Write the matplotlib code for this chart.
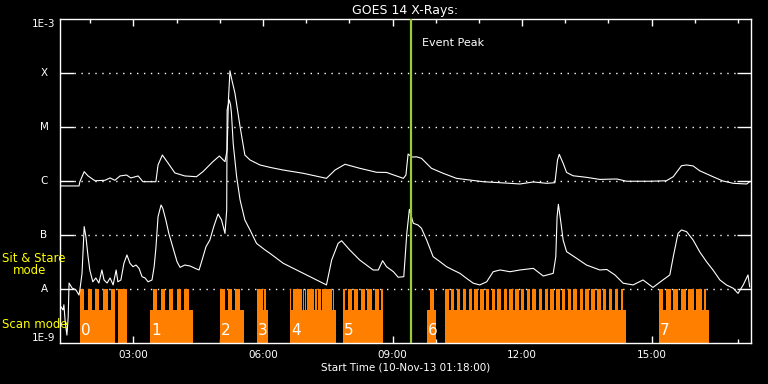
import matplotlib
matplotlib.use("Agg")
import matplotlib.pyplot as plt
import matplotlib.transforms as mtransforms
from matplotlib.ticker import FixedLocator, NullLocator

# time in hours of 10-Nov-13, flux in W/m^2
t_long = [1.30, 1.74, 1.76, 1.86, 1.95, 2.11, 2.34, 2.46, 2.57, 2.69, 2.84, 2.94, 3.11, 3.22, 3.52,
          3.57, 3.67, 3.80, 3.96, 4.19, 4.46, 4.61, 4.84, 4.99, 5.12, 5.17, 5.20, 5.235, 5.28, 5.35,
          5.47, 5.58, 5.70, 5.93, 6.16, 6.46, 6.93, 7.47, 7.67, 7.90, 8.24, 8.63, 8.86, 9.25, 9.31,
          9.36, 9.45, 9.56, 9.67, 9.90, 10.17, 10.48, 11.10, 11.72, 11.95, 12.26, 12.57, 12.76, 12.82,
          12.86, 12.95, 13.03, 13.18, 13.49, 13.80, 14.19, 14.42, 14.96, 15.34, 15.50, 15.69, 15.81,
          15.96, 16.11, 16.42, 16.65, 16.89, 17.20, 17.27]
flux_long = [8.1e-7, 8.1e-7, 9.7e-7, 1.49e-6, 1.24e-6, 1.01e-6, 1.03e-6, 1.14e-6, 1.03e-6, 1.24e-6,
             1.29e-6, 1.14e-6, 1.24e-6, 9.7e-7, 9.7e-7, 1.98e-6, 3.03e-6, 2.16e-6, 1.41e-6, 1.24e-6,
             1.20e-6, 1.49e-6, 2.28e-6, 2.90e-6, 2.28e-6, 3.75e-6, 3.16e-5, 1.10e-4, 7.4e-5, 4.27e-5,
             1.01e-5, 3.03e-6, 2.45e-6, 1.98e-6, 1.79e-6, 1.60e-6, 1.39e-6, 1.12e-6, 1.60e-6, 2.04e-6,
             1.72e-6, 1.45e-6, 1.44e-6, 1.12e-6, 1.29e-6, 3.16e-6, 2.78e-6, 2.80e-6, 2.63e-6, 1.72e-6,
             1.39e-6, 1.12e-6, 9.7e-7, 9.06e-7, 8.8e-7, 9.6e-7, 9.06e-7, 9.3e-7, 2.45e-6, 3.12e-6,
             2.13e-6, 1.44e-6, 1.25e-6, 1.17e-6, 1.07e-6, 1.09e-6, 9.9e-7, 9.9e-7, 1.01e-6, 1.20e-6,
             1.92e-6, 1.98e-6, 1.90e-6, 1.55e-6, 1.20e-6, 1.0e-6, 9.06e-7, 8.8e-7, 9.7e-7]

t_short = [1.32, 1.37, 1.39, 1.42, 1.46, 1.49, 1.51, 1.58, 1.67, 1.74, 1.76, 1.81, 1.86, 1.90, 1.95,
           1.99, 2.06, 2.13, 2.20, 2.27, 2.32, 2.39, 2.46, 2.53, 2.60, 2.64, 2.71, 2.78, 2.85, 2.92,
           2.99, 3.06, 3.13, 3.20, 3.27, 3.34, 3.43, 3.48, 3.52, 3.57, 3.64, 3.68, 3.75, 3.82, 3.92,
           4.01, 4.08, 4.19, 4.31, 4.43, 4.52, 4.59, 4.68, 4.77, 4.86, 4.96, 5.04, 5.12, 5.16, 5.17,
           5.22, 5.25, 5.27, 5.31, 5.39, 5.47, 5.58, 5.70, 5.85, 6.05, 6.16, 6.47, 6.86, 7.24, 7.47,
           7.59, 7.74, 7.82, 8.01, 8.24, 8.55, 8.67, 8.77, 8.86, 9.02, 9.13, 9.26, 9.33, 9.39, 9.48,
           9.59, 9.67, 9.79, 9.94, 10.10, 10.25, 10.40, 10.56, 10.71, 10.87, 11.02, 11.18, 11.33, 11.49,
           11.72, 11.95, 12.26, 12.49, 12.72, 12.78, 12.81, 12.84, 12.89, 12.95, 13.03, 13.26, 13.49,
           13.80, 13.96, 14.15, 14.34, 14.57, 14.80, 15.03, 15.26, 15.42, 15.50, 15.61, 15.69, 15.81,
           15.96, 16.11, 16.27, 16.42, 16.58, 16.73, 16.89, 17.00, 17.12, 17.23, 17.27]
flux_short = [4.7e-9, 4.1e-9, 5.1e-9, 2.5e-9, 1.4e-9, 3.1e-9, 1.29e-8, 1.04e-8, 9.6e-9, 7.7e-9,
              9.6e-9, 1.95e-8, 1.43e-7, 9.3e-8, 3.96e-8, 2.25e-8, 1.36e-8, 1.60e-8, 1.29e-8, 2.25e-8,
              1.47e-8, 1.29e-8, 1.60e-8, 1.19e-8, 2.25e-8, 1.36e-8, 1.47e-8, 2.99e-8, 4.27e-8, 2.99e-8,
              2.59e-8, 2.78e-8, 2.41e-8, 1.69e-8, 1.60e-8, 1.36e-8, 1.47e-8, 2.59e-8, 5.67e-8, 2.18e-7,
              3.6e-7, 3.12e-7, 1.90e-7, 1.07e-7, 5.67e-8, 3.2e-8, 2.52e-8, 2.78e-8, 2.67e-8, 2.41e-8,
              2.25e-8, 3.44e-8, 6.07e-8, 8.07e-8, 1.43e-7, 2.45e-7, 1.90e-7, 1.07e-7, 2.9e-7, 2.07e-5,
              3.16e-5, 2.55e-5, 1.80e-5, 4.99e-6, 1.20e-6, 4.45e-7, 1.90e-7, 1.24e-7, 7.0e-8, 5.27e-8,
              4.58e-8, 2.99e-8, 2.09e-8, 1.47e-8, 1.19e-8, 3.44e-8, 7.0e-8, 7.83e-8, 5.27e-8, 3.44e-8,
              2.25e-8, 2.25e-8, 3.34e-8, 2.59e-8, 2.09e-8, 1.65e-8, 1.69e-8, 1.07e-7, 2.99e-7, 1.65e-7,
              1.53e-7, 1.33e-7, 8.07e-8, 3.96e-8, 3.2e-8, 2.59e-8, 2.25e-8, 1.95e-8, 1.58e-8, 1.28e-8,
              1.19e-8, 1.36e-8, 2.09e-8, 2.25e-8, 2.09e-8, 2.25e-8, 2.41e-8, 1.74e-8, 1.95e-8, 3.96e-8,
              2.18e-7, 3.71e-7, 1.90e-7, 8.07e-8, 4.91e-8, 3.71e-8, 2.78e-8, 2.25e-8, 2.30e-8, 1.82e-8,
              1.28e-8, 1.19e-8, 1.47e-8, 1.07e-8, 1.47e-8, 1.82e-8, 3.96e-8, 1.07e-7, 1.24e-7, 1.15e-7,
              8.07e-8, 4.91e-8, 3.2e-8, 2.25e-8, 1.47e-8, 1.19e-8, 1.03e-8, 8.3e-9, 1.19e-8, 1.82e-8,
              1.10e-8]

# observing modes (hours): scan blocks and sit & stare bars
scan_start = [1.76, 2.65, 3.38, 5.00, 5.85, 6.62, 7.86, 9.79, 10.21, 15.17]
scan_end = [2.57, 2.84, 4.39, 5.56, 6.11, 7.68, 8.79, 10.00, 14.40, 16.33]
stare_start = [1.76, 1.95, 2.10, 2.29, 2.47, 2.65,
               3.46, 3.65, 3.83, 4.00, 4.17,
               5.00, 5.18, 5.35, 5.85, 6.03,
               6.62, 6.69, 6.92, 6.97, 7.02, 7.21, 7.27, 7.37, 7.61,
               7.86, 7.97, 8.11, 8.26, 8.42, 8.59, 8.74, 9.87,
               10.21, 10.35, 10.49, 10.62, 10.76, 10.89, 11.03, 11.16, 11.30, 11.43, 11.57,
               11.70, 11.84, 11.97, 12.11, 12.24, 12.38, 12.52, 12.65, 12.79, 12.92, 13.06,
               13.19, 13.33, 13.46, 13.60, 13.74, 13.87, 14.01, 14.14, 14.28,
               15.17, 15.33, 15.50, 15.67, 15.85, 16.03, 16.21]
stare_end = [1.86, 2.04, 2.21, 2.40, 2.57, 2.84,
             3.55, 3.74, 3.92, 4.11, 4.28,
             5.12, 5.29, 5.47, 6.00, 6.07,
             6.66, 6.90, 6.95, 6.99, 7.19, 7.24, 7.34, 7.59, 7.65,
             7.91, 8.05, 8.20, 8.37, 8.53, 8.68, 8.79, 9.96,
             10.30, 10.43, 10.57, 10.70, 10.84, 10.97, 11.11, 11.24, 11.38, 11.51, 11.65,
             11.78, 11.92, 12.05, 12.19, 12.33, 12.46, 12.60, 12.73, 12.87, 13.00, 13.14,
             13.28, 13.41, 13.55, 13.68, 13.82, 13.95, 14.09, 14.22, 14.34,
             15.27, 15.45, 15.62, 15.80, 15.98, 16.16, 16.25]
scan_level = 4.1e-9
stare_level = 1.0e-8
block_ids = ["0", "1", "2", "3", "4", "5", "6", "7"]
block_t = [1.76, 3.38, 5.00, 5.85, 6.62, 7.86, 9.79, 15.17]

event_peak = 9.425
t_range = (1.3, 17.3)
hour_ticks = [3, 6, 9, 12, 15]
hour_labels = ["03:00", "06:00", "09:00", "12:00", "15:00"]
levels = [1e-9, 1e-8, 1e-7, 1e-6, 1e-5, 1e-4, 1e-3]
level_names = ["1E-9", "A", "B", "C", "M", "X", "1E-3"]

orange = "#ff8000"
fig = plt.figure(figsize=(7.68, 3.84), dpi=100, facecolor="black")
ax = fig.add_axes([60 / 768, 41 / 384, 691 / 768, 324 / 384], facecolor="black")
ax.set_yscale("log")
ax.set_xlim(*t_range)
ax.set_ylim(levels[0], levels[-1])

# dotted flare-class lines
for lv in levels[1:-1]:
    ax.axhline(lv, xmin=0.02, xmax=0.98, color="white", lw=1.0, dashes=(1, 4), zorder=1)

ax.broken_barh([(s, e - s) for s, e in zip(scan_start, scan_end)],
               (levels[0], scan_level - levels[0]), facecolor=orange, zorder=2)
ax.broken_barh([(s, e - s) for s, e in zip(stare_start, stare_end)],
               (levels[0], stare_level - levels[0]), facecolor=orange, zorder=2)
for lab, t in zip(block_ids, block_t):
    ax.annotate(lab, xy=(t, levels[0]), xytext=(1, 5), textcoords="offset pixels",
                color="white", fontsize=11, ha="left", va="bottom", zorder=5)

ax.plot(t_long, flux_long, color="white", lw=0.8, zorder=3)
ax.plot(t_short, flux_short, color="white", lw=0.8, zorder=3)

ax.axvline(event_peak, color="#9acd32", lw=1.6, zorder=4)
ax.annotate("Event Peak", xy=(event_peak, 1), xycoords=("data", "axes fraction"),
            xytext=(8, -17), textcoords="offset points", color="white", fontsize=8,
            ha="left", va="center")

for sp in ax.spines.values():
    sp.set_color("white")
    sp.set_linewidth(1.0)

ax.xaxis.set_major_locator(FixedLocator(hour_ticks))
ax.xaxis.set_minor_locator(FixedLocator(range(2, 18)))
ax.set_xticklabels(hour_labels)
ax.tick_params(axis="x", which="major", direction="in", length=5, width=1, top=True,
               colors="white", labelsize=7.5, pad=5)
ax.tick_params(axis="x", which="minor", direction="in", length=3, width=1, top=True, colors="white")

ax.yaxis.set_major_locator(FixedLocator(levels[1:-1]))
ax.yaxis.set_minor_locator(NullLocator())
ax.set_yticklabels([])
ax.tick_params(axis="y", which="major", direction="in", length=10, width=1, right=True, colors="white")
ylab_tr = mtransforms.blended_transform_factory(ax.transAxes, ax.transData)
for lv, name in zip(levels, level_names):
    va = "center"
    if lv == levels[0]:
        va = "bottom"
    elif lv == levels[-1]:
        va = "top"
    ax.text(-16 / 691, lv, name, transform=ylab_tr, color="white", fontsize=7.5, ha="center", va=va)

ax.set_title("GOES 14 X-Rays:", color="white", fontsize=9, pad=3.5)
ax.text(0.5, -25 / 324, "Start Time (10-Nov-13 01:18:00)", transform=ax.transAxes,
        color="white", fontsize=7.5, ha="center", va="center")

fig.text(2 / 768, 1 - 259 / 384, "Sit & Stare", color="yellow", fontsize=8.5, ha="left", va="center")
fig.text(13 / 768, 1 - 271 / 384, "mode", color="yellow", fontsize=8.5, ha="left", va="center")
fig.text(2 / 768, 1 - 324 / 384, "Scan mode", color="yellow", fontsize=8.5, ha="left", va="center")

fig.savefig("out.png", dpi=100, facecolor="black")
